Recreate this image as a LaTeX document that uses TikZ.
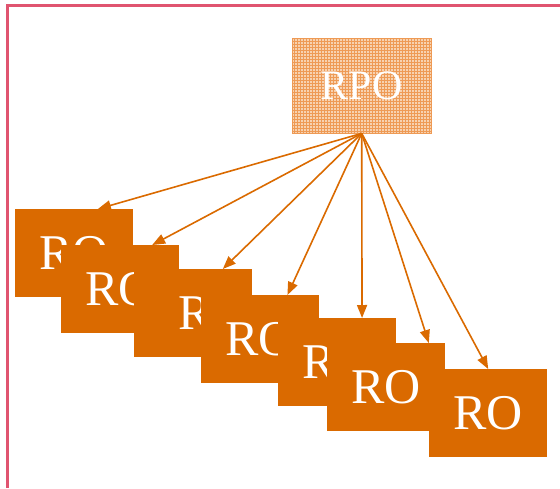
\documentclass[tikz,border=0pt]{standalone}
\usepackage{fontspec}
\setmainfont{Liberation Serif}
\usetikzlibrary{calc, arrows.meta, patterns}

\definecolor{frameRed}{HTML}{E05470}
\definecolor{roOrange}{HTML}{DA6A00}
\definecolor{rpoFill}{HTML}{F7D2B0}
\definecolor{rpoGrid}{HTML}{EE9A55}

\begin{document}
\begin{tikzpicture}[x=1pt, y=-1pt,
    robox/.style={anchor=north west, fill=roOrange, text=white, inner sep=0pt,
        minimum width=118pt, minimum height=88pt, font=\fontsize{50}{50}\selectfont},
    rpobox/.style={anchor=north west, fill=rpoFill, text=white, inner sep=0pt,
        minimum width=139pt, minimum height=95pt, font=\fontsize{42}{42}\selectfont},
    link/.style={roOrange, line width=1.6pt, -{Triangle[length=13pt, width=10pt]}}]

    \useasboundingbox (0,0) rectangle (560,488);

    % frame
    \draw[frameRed, line width=3pt] (7.5,488) |- (560,5.5);

    % top box
    \node[rpobox] (rpo) at (292,38) {};
    \fill[pattern=grid, pattern color=rpoGrid] (rpo.north west) rectangle (rpo.south east);
    \draw[rpoGrid, line width=0.6pt] (rpo.north west) rectangle (rpo.south east);
    \node[text=white, font=\fontsize{42}{42}\selectfont] at (rpo.center) {RPO};

    % stacked boxes
    \node[robox] (ro1) at (15,209) {RO};
    \node[robox] (ro2) at (61,245) {RO};
    \node[robox] (ro3) at (134,269) {\hspace*{40pt}RO};
    \node[robox] (ro4) at (201,295) {RO};
    \node[robox] (ro5) at (278,318) {RO};
    \node[robox] (ro6) at (327,343) {RO};
    \node[robox] (ro7) at (429,369) {RO};

    % arrows
    \foreach \i/\f in {1/0.70, 2/0.77, 3/0.75, 4/0.73, 5/0.71, 6/0.86, 7/0.50}
        \draw[link] (rpo.south) -- ($(ro\i.north west)!\f!(ro\i.north east)$);

\end{tikzpicture}
\end{document}
